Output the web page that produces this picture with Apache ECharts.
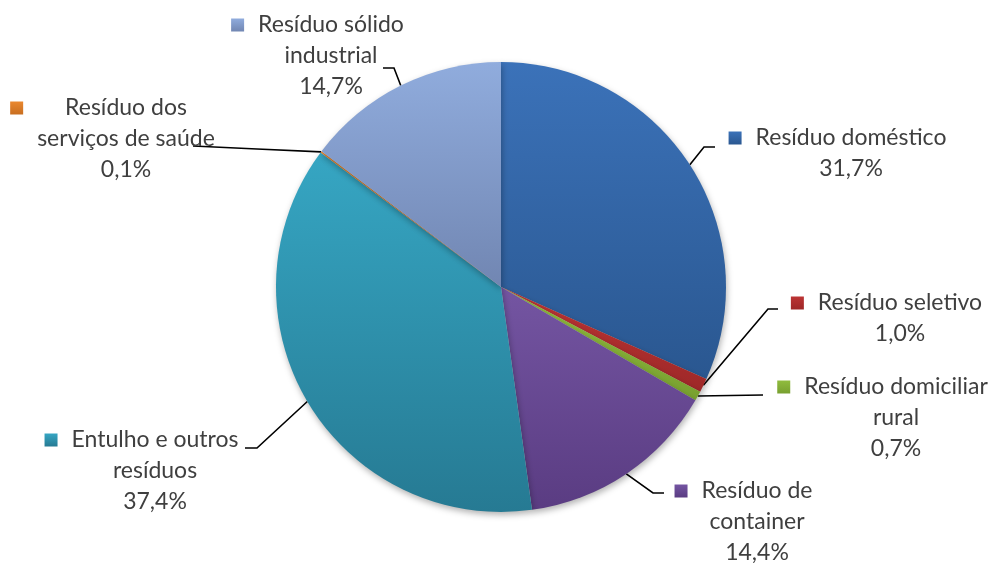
<!DOCTYPE html>
<html>
<head>
<meta charset="utf-8">
<script src="https://cdn.jsdelivr.net/npm/echarts@6/dist/echarts.min.js"></script>
<style>
html,body{margin:0;padding:0;background:#fff;}
#chart{width:991px;height:563px;}
</style>
</head>
<body>
<div id="chart"></div>
<script>
// ---- data ----
const categories = [
  'Resíduo doméstico',
  'Resíduo seletivo',
  'Resíduo domiciliar\nrural',
  'Resíduo de\ncontainer',
  'Entulho e outros\nresíduos',
  'Resíduo dos\nserviços de saúde',
  'Resíduo sólido\nindustrial'
];
const values = [31.7, 1.0, 0.7, 14.4, 37.4, 0.1, 14.7];

// ---- styles ----
const topColors = ['#3B72B9', '#BC3434', '#90BC3E', '#7455A2', '#36A6C3', '#EA882F', '#90ACDD'];
const bottomColors = ['#2A5790', '#9E2828', '#78A030', '#5A3C82', '#267A93', '#C86E20', '#7186B2'];

// label layout (text centre x, first line centre y, leader bend and end)
const labelAnchors = [
  {x: 851, y: 138, bend: [704, 147], end: [715, 147]},
  {x: 900, y: 303, bend: [768, 309], end: [778, 309]},
  {x: 896, y: 387, bend: null, end: [763, 395]},
  {x: 757, y: 491, bend: [653, 493], end: [664, 493]},
  {x: 155, y: 440, bend: [257, 448], end: [245, 448]},
  {x: 126, y: 108, bend: null, end: [193, 146]},
  {x: 331, y: 25,  bend: [394, 68],  end: [383, 68]}
];

const LH = 31;
const rich = {
  t: {fontFamily: 'Lato, "Open Sans", sans-serif', fontSize: 23, color: '#3f3f3f', lineHeight: LH, align: 'center'},
  g: {width: 14, height: 13, lineHeight: LH, align: 'left'},
  s: {width: 27, height: 13, lineHeight: LH, align: 'left'},
  s2: {width: 27, height: 13, lineHeight: LH, align: 'right'}
};
topColors.forEach((c, i) => {
  rich['k' + i] = {width: 13, height: 13, lineHeight: LH, align: 'left',
    backgroundColor: new echarts.graphic.LinearGradient(0, 0, 0, 1, [{offset: 0, color: c}, {offset: 1, color: bottomColors[i]}])};
});

function pct(v) { return v.toFixed(1).replace('.', ',') + '%'; }

const data = categories.map((name, i) => ({
  name: name,
  value: values[i],
  itemStyle: {
    color: new echarts.graphic.LinearGradient(0, 0, 0, 1, [
      {offset: 0, color: topColors[i]},
      {offset: 1, color: bottomColors[i]}
    ])
  }
}));

const chart = echarts.init(document.getElementById('chart'), null, {renderer: 'canvas'});
chart.setOption({
  animation: false,
  backgroundColor: '#ffffff',
  series: [{
    type: 'pie',
    center: [501, 287],
    radius: 225,
    startAngle: 90,
    clockwise: true,
    avoidLabelOverlap: false,
    data: data,
    itemStyle: {
      shadowBlur: 6,
      shadowColor: 'rgba(0,0,0,0.3)',
      shadowOffsetX: 1,
      shadowOffsetY: 3
    },
    label: {
      show: true,
      position: 'outside',
      rich: rich,
      formatter: function (p) {
        const lines = p.name.split('\n').concat([pct(p.value)]);
        return lines.map((l, i) =>
          (i === 0 ? '{k' + p.dataIndex + '|}{g|}' : '{s|}') + '{t|' + l + '}{s2|}'
        ).join('\n');
      }
    },
    labelLine: {
      show: true,
      lineStyle: {color: '#000000', width: 1.6}
    },
    labelLayout: function (params) {
      const a = labelAnchors[params.dataIndex];
      const p0 = params.labelLinePoints ? params.labelLinePoints[0] : a.end;
      const bend = a.bend || [(p0[0] + a.end[0]) / 2, (p0[1] + a.end[1]) / 2];
      return {
        x: a.x,
        y: a.y - LH / 2,
        align: 'center',
        verticalAlign: 'top',
        labelLinePoints: [p0, bend, a.end]
      };
    }
  }]
});
</script>
</body>
</html>
